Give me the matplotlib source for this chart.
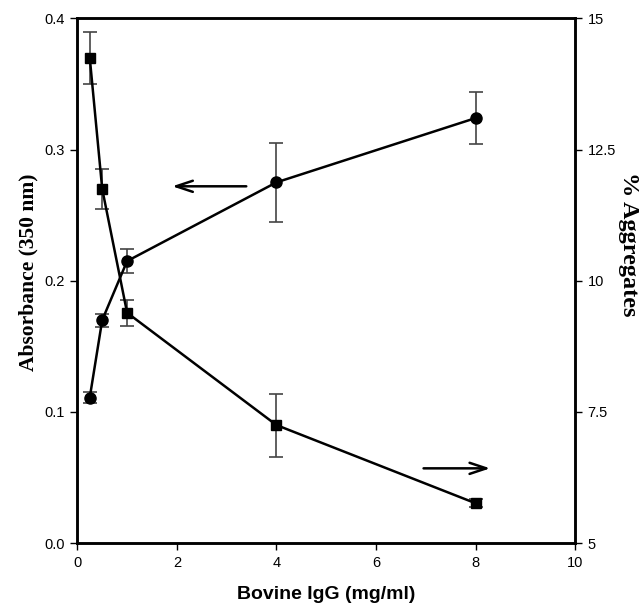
import matplotlib
matplotlib.use("Agg")
import matplotlib.pyplot as plt

conc = [0.25, 0.5, 1, 4, 8]
absorbance = [0.111, 0.170, 0.215, 0.275, 0.324]
absorbance_err = [0.004, 0.005, 0.009, 0.030, 0.020]
aggregates = [14.25, 11.75, 9.39, 7.25, 5.76]
aggregates_err = [0.5, 0.375, 0.25, 0.6, 0.08]

xticks = [0, 2, 4, 6, 8, 10]
yticks_left = [0.0, 0.1, 0.2, 0.3, 0.4]
yticks_right = [5, 7.5, 10, 12.5, 15]

fig = plt.figure(figsize=(6.39, 6.13), dpi=100)
ax = fig.add_axes([0.121, 0.114, 0.779, 0.856])
ax2 = ax.twinx()

sans = ["Liberation Sans", "DejaVu Sans"]
serif = ["Liberation Serif", "DejaVu Serif"]

ax.errorbar(conc, absorbance, yerr=absorbance_err, color="black", marker="o",
            markersize=8, lw=1.8, ecolor="#444444", elinewidth=1.2, capsize=5,
            capthick=1.2, zorder=3)
ax2.errorbar(conc, aggregates, yerr=aggregates_err, color="black", marker="s",
             markersize=7, lw=1.8, ecolor="#444444", elinewidth=1.2, capsize=5,
             capthick=1.2, zorder=3)

ax.set_xlim(0, 10)
ax.set_ylim(0, 0.4)
ax2.set_ylim(5, 15)
ax.set_xticks(xticks)
ax.set_xticklabels([str(t) for t in xticks], family=sans, fontsize=10.5)
ax.set_yticks(yticks_left)
ax.set_yticklabels([f"{t:.1f}" for t in yticks_left], family=sans, fontsize=10.5)
ax2.set_yticks(yticks_right)
ax2.set_yticklabels(["5", "7.5", "10", "12.5", "15"], family=sans, fontsize=10.5)

for a in (ax, ax2):
    a.tick_params(direction="out", length=5, width=1, pad=4)
    for s in a.spines.values():
        s.set_linewidth(1.8)

ax.set_xlabel("Bovine IgG (mg/ml)", family=sans, fontweight="bold", fontsize=14, labelpad=12)
ax.set_ylabel("Absorbance (350 nm)", family=serif, fontweight="bold", fontsize=15.5,
              va="center", ha="center")
ax.yaxis.set_label_coords(-0.098, 0.517)
ax2.set_ylabel("% Aggregates", family=serif, fontweight="bold", fontsize=17.5,
               rotation=270, va="center", ha="center")
ax2.yaxis.set_label_coords(1.108, 0.57)

ax.annotate("", xy=(1.85, 0.272), xytext=(3.45, 0.272),
            arrowprops=dict(arrowstyle="->,head_length=1.2,head_width=0.4", lw=1.8, color="black"))
ax.annotate("", xy=(8.35, 0.057), xytext=(6.9, 0.057),
            arrowprops=dict(arrowstyle="->,head_length=1.2,head_width=0.4", lw=1.8, color="black"))

fig.savefig("out.png", dpi=100)
